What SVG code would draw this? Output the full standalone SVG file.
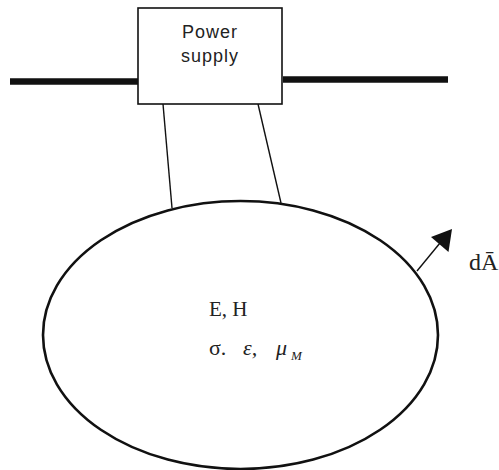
<svg xmlns="http://www.w3.org/2000/svg" width="499" height="470" viewBox="0 0 499 470">
  <defs>
    <style>
      .box { fill: #fff; stroke: #111; stroke-width: 1.6; }
      .bar { stroke: #111; stroke-width: 6.5; fill: none; }
      .wire { stroke: #111; stroke-width: 1.4; fill: none; }
      .body { fill: #fff; stroke: #111; stroke-width: 2.6; }
      .sans { font-family: "Liberation Sans", Arial, sans-serif; fill: #222; }
      .serif { font-family: "Liberation Serif", "Times New Roman", serif; fill: #222; }
    </style>
  </defs>
  <rect width="499" height="470" fill="#fff"/>

  <g id="bus-line">
    <line class="bar" x1="10" y1="81.5" x2="138" y2="81.5"/>
    <line class="bar" x1="283" y1="79.5" x2="448" y2="79.5"/>
  </g>

  <g id="region">
    <ellipse class="body" cx="240.5" cy="335" rx="197.5" ry="134"/>
    <text class="serif" x="209" y="316" font-size="21">E, H</text>
    <text class="serif" x="209" y="355" font-size="22">σ.</text>
    <text class="serif" x="243" y="355" font-size="22" font-style="italic">ε,</text>
    <text class="serif" x="276" y="355" font-size="22" font-style="italic">μ</text>
    <text class="serif" x="291" y="360" font-size="13" font-style="italic">M</text>
  </g>

  <g id="connectors">
    <line class="wire" x1="163" y1="104" x2="172" y2="208"/>
    <line class="wire" x1="258" y1="104" x2="281" y2="203"/>
    <line class="wire" x1="417" y1="271" x2="440" y2="243"/>
    <path d="M452,229 L448.5,252 L431,237 Z" fill="#111"/>
  </g>

  <g id="power-supply">
    <rect class="box" x="138" y="8" width="144" height="96"/>
    <text class="sans" x="210" y="38" font-size="18" text-anchor="middle" letter-spacing="1">Power</text>
    <text class="sans" x="210" y="62" font-size="18" text-anchor="middle" letter-spacing="1">supply</text>
  </g>

  <g id="area-label">
    <text class="serif" x="469" y="270" font-size="24">dĀ</text>
  </g>
</svg>
